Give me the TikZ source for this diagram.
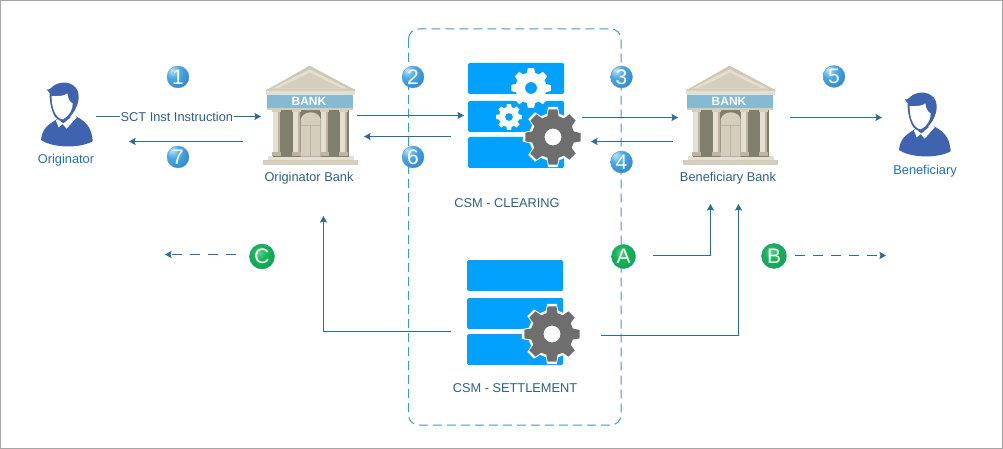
\documentclass[tikz,border=0pt]{standalone}
\usepackage{fontspec}
\setmainfont{Liberation Sans}
\usetikzlibrary{arrows.meta}
\definecolor{conn}{HTML}{2A6C9E}
\definecolor{dashbox}{HTML}{3A9AD9}
\definecolor{stackblue}{HTML}{02A1FE}
\definecolor{gearg}{HTML}{6E6E6E}
\definecolor{personb}{HTML}{3F63AE}
\definecolor{lblblue}{HTML}{2C5F8A}
\definecolor{lblbright}{HTML}{1F6FC0}
\definecolor{stone}{HTML}{D5CEBD}
\definecolor{stonel}{HTML}{E4DFD2}
\definecolor{stoned}{HTML}{BDB5A1}
\definecolor{roofo}{HTML}{CFC8B6}
\definecolor{wall}{HTML}{7F7F6B}
\definecolor{band}{HTML}{84BAD2}
\definecolor{bb0}{HTML}{BCE4F8}\definecolor{bb1}{HTML}{4AAAE6}\definecolor{bb2}{HTML}{2F86CF}\definecolor{bb3}{HTML}{2A72B8}
\definecolor{gb0}{HTML}{5FD08A}\definecolor{gb1}{HTML}{14B455}\definecolor{gb2}{HTML}{0A9E48}\definecolor{gb3}{HTML}{2A8AAE}
\pgfdeclareradialshading{ballblue}{\pgfpoint{-14bp}{16bp}}{color(0bp)=(bb0);color(16bp)=(bb1);color(38bp)=(bb2);color(60bp)=(bb3);color(100bp)=(bb3)}
\pgfdeclareradialshading{ballgreen}{\pgfpoint{-6bp}{8bp}}{color(0bp)=(gb0);color(14bp)=(gb1);color(44bp)=(gb2);color(56bp)=(gb3);color(100bp)=(gb3)}
\tikzset{
 x=1pt,y=-1pt,
 conline/.style={draw=conn,line width=1.25pt,-{Stealth[length=6.5pt,width=7pt,inset=1pt]}},
 condash/.style={conline,dash pattern=on 10pt off 8pt},
 bubble/.style={circle,inner sep=0pt,minimum size=22pt,text=white,font=\fontsize{21}{21}\selectfont},
 numball/.style={bubble,shading=ballblue,draw=bb3!70!white,line width=.4pt},
 letball/.style={bubble,minimum size=25pt,shading=ballgreen,draw=gb3,line width=.4pt},
 lab/.style={text=lblblue,font=\fontsize{12.8}{14}\selectfont,inner sep=0pt},
 labb/.style={text=lblbright,font=\fontsize{12.8}{14}\selectfont,inner sep=0pt},
 row/.style={fill=stackblue,rounded corners=1.5pt},
}
% gear centred on current origin
\newcommand{\gearpath}[3]{% outer, root, hole
 (-8:#1) \foreach \a in {0,45,...,315}{
   -- ({\a-9}:#1) -- ({\a+9}:#1) -- ({\a+15}:#2) -- ({\a+30}:#2) }
 -- cycle (0:#3) arc (0:360:#3)}
\newcommand{\biggear}[2]{\begin{scope}[shift={(#1,#2)}]
 \fill[white] \gearpath{30.5}{24}{1};
 \fill[gearg,even odd rule] \gearpath{28}{21.5}{8.5};
 \end{scope}}
\newcommand{\whitegear}[4]{\begin{scope}[shift={(#1,#2)}]
 \fill[white,even odd rule] \gearpath{#3}{{#3*.78}}{#4};
 \end{scope}}
\newcommand{\bankicon}[2]{\begin{scope}[shift={(#1,#2)},x=.3333pt,y=-.3333pt]
 % steps
 \fill[stone] (15,300) rectangle (300,316);
 \fill[stonel] (30,288) rectangle (288,301);
 % wall
 \fill[wall] (44,147) rectangle (272,290);
 % door
 \fill[stone] (128,290) -- (128,178) .. controls (135,150) and (182,150) .. (188,178) -- (188,290) -- cycle;
 \draw[stoned,line width=1.5pt] (128,197) -- (188,197) (157,197) -- (157,290);
 % columns
 \foreach \c in {55,115,199,257}{
  \fill[stonel] (\c-10,150) rectangle (\c+10,288);
  \fill[stoned] (\c+5,150) rectangle (\c+10,288);
  \fill[stone] (\c-14,147) rectangle (\c+14,156);
  \fill[stoned] (\c-14,276) rectangle (\c+14,288);
 }
 % cornice and band
 \fill[stonel] (24,86) rectangle (292,105);
 \fill[band] (27,105) rectangle (286,144);
 \fill[stone] (27,144) rectangle (286,150);
 % roof
 \fill[roofo] (155,17) -- (296,92) -- (22,92) -- cycle;
 \fill[stonel] (155,28) -- (270,86) -- (42,86) -- cycle;
 \fill[stone] (155,38) -- (250,84) -- (62,84) -- cycle;
 \node[text=white,font=\bfseries\fontsize{12}{12}\selectfont,inner sep=0pt] at (153,124) {BANK};
 \end{scope}}
\newcommand{\personicon}[2]{\begin{scope}[shift={(#1,#2)},x=.3333pt,y=-.3333pt]
 % body
 \fill[personb] (15,186) .. controls (18,150) and (40,138) .. (62,124) -- (118,114) .. controls (145,128) and (168,145) .. (170,190) .. controls (130,212) and (50,210) .. (15,186) -- cycle;
 % collar
 \fill[white] (60,128) -- (70,120) -- (114,110) -- (122,118) -- (92,152) -- (80,138) -- (68,148) -- cycle;
 \fill[personb] (72,128) -- (82,136) -- (104,118) -- (100,108) -- (72,116) -- cycle;
 % hair and head
 \fill[personb] (32,34) .. controls (42,38) and (46,26) .. (58,20) .. controls (85,6) and (125,15) .. (128,52) .. controls (130,72) and (120,95) .. (106,112) -- (78,132) -- (60,120) .. controls (48,105) and (40,75) .. (41,45) -- cycle;
 % face
 \fill[white] (47,54) .. controls (62,54) and (84,56) .. (94,46) .. controls (96,60) and (100,72) .. (110,76) .. controls (112,92) and (98,118) .. (80,124) .. controls (62,122) and (46,95) .. (47,54) -- cycle;
 \end{scope}}
\begin{document}
\begin{tikzpicture}
\useasboundingbox (0,0) rectangle (1003,449);
% frame
\draw[gray!70,line width=1pt] (.5,.5) rectangle (1002.5,448.5);
% dashed CSM box
\draw[dashbox,line width=1pt,dash pattern=on 9pt off 5pt,rounded corners=10pt] (408.5,29) rectangle (621,425);
% stacks
\fill[row] (468,63) rectangle (564,94);
\fill[row] (468,101) rectangle (564,132);
\fill[row] (468,137) rectangle (564,168);
\whitegear{531}{88}{20}{6}
\whitegear{509}{117}{13}{4}
\biggear{553}{137}
\fill[row] (467,260) rectangle (563,291);
\fill[row] (467,298) rectangle (563,329);
\fill[row] (467,334) rectangle (563,365);
\biggear{552}{334}
% icons
\bankicon{258}{60}
\bankicon{678}{60}
\personicon{36}{78}
\personicon{894}{88}
% labels
\node[labb] (orig) at (66,160) {Originator};
\node[labb] (benef) at (925,171) {Beneficiary};
\node[lab] (origbank) at (309,178) {Originator Bank};
\node[lab] (benbank) at (728,178) {Beneficiary Bank};
\node[lab] (clear) at (507,203) {CSM - CLEARING};
\node[lab] (settle) at (515,388) {CSM - SETTLEMENT};
% connector end points
\coordinate (p1a) at (96,116.5);   \coordinate (p1b) at (261,116.5);
\coordinate (p7a) at (243,141.5);  \coordinate (p7b) at (129,141.5);
\coordinate (p2a) at (357,115.5);  \coordinate (p2b) at (464,115.5);
\coordinate (p6a) at (451,136.5);  \coordinate (p6b) at (364,136.5);
\coordinate (p3a) at (582,117.5);  \coordinate (p3b) at (678,117.5);
\coordinate (p4a) at (673,141.5);  \coordinate (p4b) at (591,141.5);
\coordinate (p5a) at (790,117.5);  \coordinate (p5b) at (882,117.5);
\coordinate (pAa) at (653,255.5);  \coordinate (pAc) at (710.5,255.5); \coordinate (pAb) at (710.5,204);
\coordinate (pBa) at (795,255.5);  \coordinate (pBb) at (886,255.5);
\coordinate (pCa) at (236,254.5);  \coordinate (pCb) at (165,254.5);
\coordinate (pSa) at (601,335.5);  \coordinate (pSc) at (738.5,335.5); \coordinate (pSb) at (738.5,204);
\coordinate (pTa) at (451,331.5);  \coordinate (pTc) at (323.5,331.5); \coordinate (pTb) at (323.5,216);
% connectors
\draw[conline] (p1a) -- node[fill=white,text=lblblue,font=\fontsize{12.8}{14}\selectfont,inner sep=.6pt,pos=.49] (sct) {SCT Inst Instruction} (p1b);
\draw[conline] (p7a) -- (p7b);
\draw[conline] (p2a) -- (p2b);
\draw[conline] (p6a) -- (p6b);
\draw[conline] (p3a) -- (p3b);
\draw[conline] (p4a) -- (p4b);
\draw[conline] (p5a) -- (p5b);
\draw[conline] (pAa) -- (pAc) -- (pAb);
\draw[conline] (pSa) -- (pSc) -- (pSb);
\draw[conline] (pTa) -- (pTc) -- (pTb);
\draw[condash] (pBa) -- (pBb);
\draw[condash] (pCa) -- (pCb);
% numbered balls
\node[numball] (n1) at (178,77) {1};
\node[numball] (n2) at (413,77) {2};
\node[numball] (n3) at (621.5,77) {3};
\node[numball] (n4) at (621.5,162) {4};
\node[numball] (n5) at (834,76.5) {5};
\node[numball] (n6) at (413,157) {6};
\node[numball] (n7) at (178,157) {7};
\node[letball,minimum size=24pt] (nA) at (623.5,256.5) {A};
\node[letball] (nB) at (774,256) {B};
\node[letball] (nC) at (262,256.5) {C};
\end{tikzpicture}
\end{document}
